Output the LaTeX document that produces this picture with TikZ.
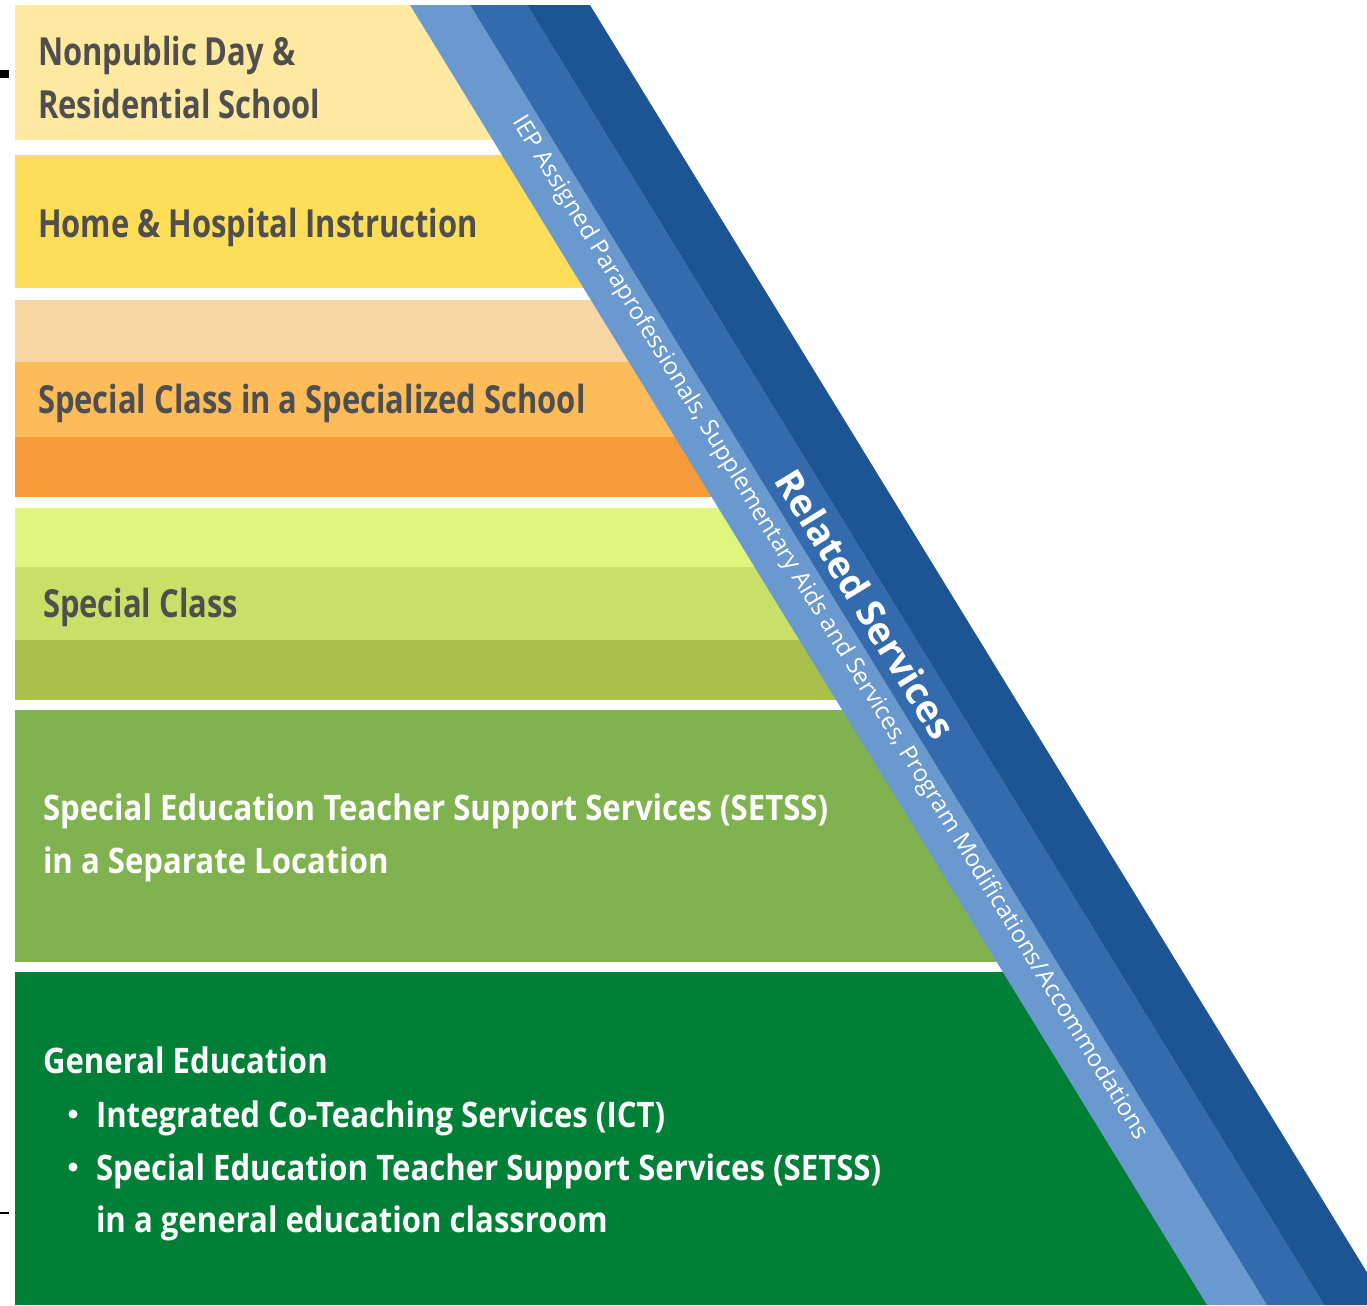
\documentclass[tikz,border=0pt]{standalone}
\usepackage{fontspec}
\setmainfont{Open Sans}
\newfontfamily\condfont[FakeStretch=0.8]{Open Sans}
\newfontfamily\narrowfont[FakeStretch=0.885]{Open Sans}

\definecolor{labelgray}{HTML}{4F4F4F}
\definecolor{nonpub}{HTML}{FEE9A0}
\definecolor{homehosp}{HTML}{FEDD58}
\definecolor{peach}{HTML}{F6D6A3}
\definecolor{lorange}{HTML}{FDBB59}
\definecolor{dorange}{HTML}{F79A39}
\definecolor{lime}{HTML}{E0F57B}
\definecolor{lgreen}{HTML}{C8E067}
\definecolor{olive}{HTML}{A9C14B}
\definecolor{setss}{HTML}{80B34F}
\definecolor{gened}{HTML}{008037}
\definecolor{bluea}{HTML}{6A99CF}
\definecolor{blueb}{HTML}{346BAE}
\definecolor{bluec}{HTML}{1D5594}

\begin{document}
\begin{tikzpicture}[x=0.01cm, y=-0.01cm,
  every node/.style={inner sep=0pt, outer sep=0pt},
  lbl/.style={anchor=base west, text=labelgray, font=\condfont\bfseries\fontsize{11}{13}\selectfont},
  wlbl/.style={anchor=base west, text=white, font=\narrowfont\bfseries\fontsize{10}{12}\selectfont}]
\useasboundingbox (0,0) rectangle (1367,1305);

% levels, cut off along the stripe
\begin{scope}
\clip (15,5) -- (425,5) -- (1222,1305) -- (15,1305) -- cycle;
\fill[nonpub] (15,5) rectangle (1367,140);
\fill[homehosp] (15,155) rectangle (1367,288);
\fill[peach] (15,300) rectangle (1367,362);
\fill[lorange] (15,362) rectangle (1367,437);
\fill[dorange] (15,437) rectangle (1367,497);
\fill[lime] (15,508) rectangle (1367,567);
\fill[lgreen] (15,567) rectangle (1367,640);
\fill[olive] (15,640) rectangle (1367,700);
\fill[setss] (15,710) rectangle (1367,962);
\fill[gened] (15,972) rectangle (1367,1305);
\end{scope}

% stripes
\begin{scope}
\clip (0,0) rectangle (1367,1305);
\fill[bluea] (410,5) -- (470,5) -- (1267,1305) -- (1207,1305) -- cycle;
\fill[blueb] (470,5) -- (527,5) -- (1324,1305) -- (1267,1305) -- cycle;
\fill[bluec] (527,5) -- (590,5) -- (1387,1305) -- (1324,1305) -- cycle;
\end{scope}

\node[lbl] (np1) at (38,65) {Nonpublic Day \&};
\node[lbl] (np2) at (38,118) {Residential School};
\node[lbl] (hh) at (38,237) {Home \& Hospital Instruction};
\node[lbl] (scss) at (38,413) {Special Class in a Specialized School};
\node[lbl] (sc) at (43,617) {Special Class};
\node[wlbl] (st1) at (43,820) {Special Education Teacher Support Services (SETSS)};
\node[wlbl] (st2) at (43,873) {in a Separate Location};
\node[wlbl] (ge) at (43,1073) {General Education};
\node[wlbl] (ict) at (96,1127) {Integrated Co-Teaching Services (ICT)};
\node[wlbl] (gs1) at (96,1180) {Special Education Teacher Support Services (SETSS)};
\node[wlbl] (gs2) at (96,1232) {in a general education classroom};
\fill[white] (73,1114) circle (4.5);
\fill[white] (73,1167) circle (4.5);

\node[rotate=-58.5, text=white, font=\fontsize{6.8}{8}\selectfont] (iep) at (830,628)
  {IEP Assigned Paraprofessionals, Supplementary Aids and Services, Program Modifications/Accommodations};
\node[rotate=-58.5, text=white, font=\bfseries\fontsize{10.7}{12}\selectfont] (rs) at (866,604) {Related Services};

\fill (0,70) rectangle (9,78);
\draw[line width=0.5pt] (0,1213) -- (9,1213);
\end{tikzpicture}
\end{document}
